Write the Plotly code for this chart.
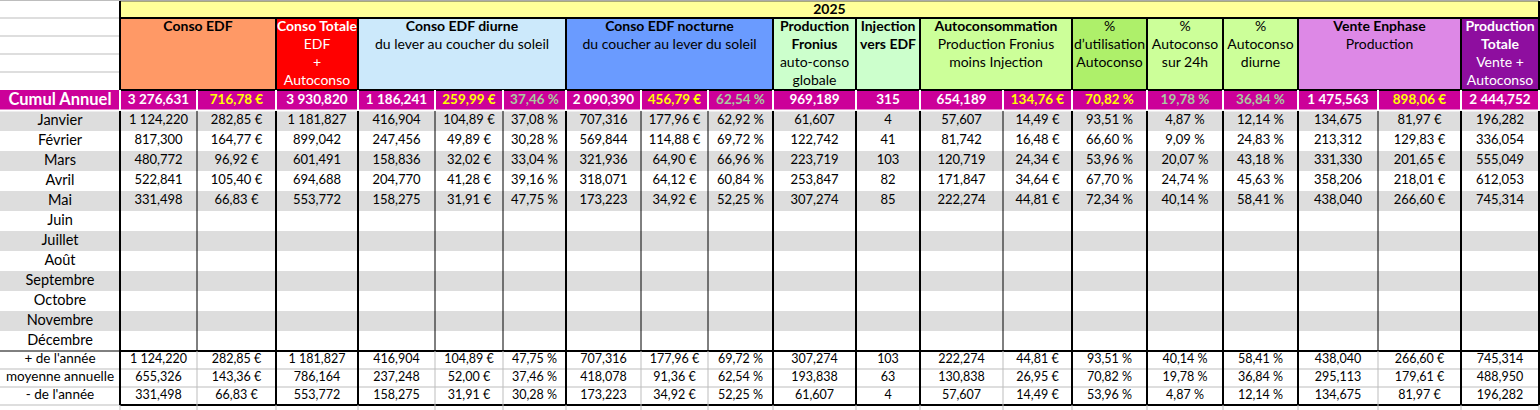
import plotly.graph_objects as go

year = "2025"
months = ["Janvier", "Février", "Mars", "Avril", "Mai", "Juin", "Juillet",
          "Août", "Septembre", "Octobre", "Novembre", "Décembre"]

conso_edf_kwh = [1124.220, 817.300, 480.772, 522.841, 331.498]
conso_edf_eur = [282.85, 164.77, 96.92, 105.40, 66.83]
conso_totale = [1181.827, 899.042, 601.491, 694.688, 553.772]
diurne_kwh = [416.904, 247.456, 158.836, 204.770, 158.275]
diurne_eur = [104.89, 49.89, 32.02, 41.28, 31.91]
diurne_pct = [37.08, 30.28, 33.04, 39.16, 47.75]
nocturne_kwh = [707.316, 569.844, 321.936, 318.071, 173.223]
nocturne_eur = [177.96, 114.88, 64.90, 64.12, 34.92]
nocturne_pct = [62.92, 69.72, 66.96, 60.84, 52.25]
prod_fronius = [61.607, 122.742, 223.719, 253.847, 307.274]
injection = [4, 41, 103, 82, 85]
autoconso_kwh = [57.607, 81.742, 120.719, 171.847, 222.274]
autoconso_eur = [14.49, 16.48, 24.34, 34.64, 44.81]
pct_utilisation = [93.51, 66.60, 53.96, 67.70, 72.34]
pct_autoconso_24h = [4.87, 9.09, 20.07, 24.74, 40.14]
pct_autoconso_diurne = [12.14, 24.83, 43.18, 45.63, 58.41]
enphase_kwh = [134.675, 213.312, 331.330, 358.206, 438.040]
enphase_eur = [81.97, 129.83, 201.65, 218.01, 266.60]
prod_totale = [196.282, 336.054, 555.049, 612.053, 745.314]

cumul_annuel = [3276.631, 716.78, 3930.820, 1186.241, 259.99, 37.46, 2090.390, 456.79, 62.54,
                969.189, 315, 654.189, 134.76, 70.82, 19.78, 36.84, 1475.563, 898.06, 2444.752]
plus_annee = [1124.220, 282.85, 1181.827, 416.904, 104.89, 47.75, 707.316, 177.96, 69.72,
              307.274, 103, 222.274, 44.81, 93.51, 40.14, 58.41, 438.040, 266.60, 745.314]
moyenne_annuelle = [655.326, 143.36, 786.164, 237.248, 52.00, 37.46, 418.078, 91.36, 62.54,
                    193.838, 63, 130.838, 26.95, 70.82, 19.78, 36.84, 295.113, 179.61, 488.950]
moins_annee = [331.498, 66.83, 553.772, 158.275, 31.91, 30.28, 173.223, 34.92, 52.25,
               61.607, 4, 57.607, 14.49, 53.96, 4.87, 12.14, 134.675, 81.97, 196.282]
summary_labels = ["+ de l'année", "moyenne annuelle", "- de l'année"]

monthly = [conso_edf_kwh, conso_edf_eur, conso_totale, diurne_kwh, diurne_eur, diurne_pct,
           nocturne_kwh, nocturne_eur, nocturne_pct, prod_fronius, injection, autoconso_kwh,
           autoconso_eur, pct_utilisation, pct_autoconso_24h, pct_autoconso_diurne,
           enphase_kwh, enphase_eur, prod_totale]
formats = ["n3", "eur", "n3", "n3", "eur", "pct", "n3", "eur", "pct", "n3", "int", "n3",
           "eur", "pct", "pct", "pct", "n3", "eur", "n3"]

# header groups: (first col, last col, fill, text colour, lines)
header_groups = [
    (0, 1, "#FF9966", "black", ["<b>Conso EDF</b>"]),
    (2, 2, "#FF0000", "white", ["<b>Conso Totale</b>", "EDF", "+", "Autoconso"]),
    (3, 5, "#CCE9FB", "black", ["<b>Conso EDF diurne</b>", "du lever au coucher du soleil"]),
    (6, 8, "#6A9BFF", "black", ["<b>Conso EDF nocturne</b>", "du coucher au lever du soleil"]),
    (9, 9, "#CCFFCC", "black", ["<b>Production</b>", "<b>Fronius</b>", "auto-conso", "globale"]),
    (10, 10, "#CCFFCC", "black", ["<b>Injection</b>", "<b>vers EDF</b>"]),
    (11, 12, "#CCFF99", "black", ["<b>Autoconsommation</b>", "Production Fronius", "moins Injection"]),
    (13, 13, "#AEF06A", "black", ["%", "d’utilisation", "Autoconso"]),
    (14, 14, "#CCFF99", "black", ["%", "Autoconso", "sur 24h"]),
    (15, 15, "#CCFF99", "black", ["%", "Autoconso", "diurne"]),
    (16, 17, "#DD88E6", "black", ["<b>Vente Enphase</b>", "Production"]),
    (18, 18, "#8E0E9F", "white", ["<b>Production</b>", "<b>Totale</b>", "Vente +", "Autoconso"]),
]

# ---- layout geometry (pixels) ----
W, H = 1540, 410
col_edges = [0, 120, 197, 276, 358, 435, 503, 566, 641, 708, 773, 856, 920, 1003,
             1072, 1147, 1223, 1298, 1378, 1461, 1539]
thick_edges = {1, 3, 4, 7, 10, 11, 12, 14, 15, 16, 17, 19, 20}
y_year = (1, 18)
y_head = (18, 90)
y_cumul = (90, 110)
y_month0, month_h = 111, 20
y_sum0, sum_h = 351, 18
y_end = y_sum0 + 3 * sum_h

MAGENTA = "#CC0099"
BAND = "#DDDDDD"
YELLOW = "#FFFF00"
SAGE = "#A9CB9F"
FONT = "Lato"


def fr(v, fmt):
    if fmt == "int":
        return str(int(v))
    dec = 3 if fmt == "n3" else 2
    s = f"{v:,.{dec}f}".replace(",", " ").replace(".", ",")
    if fmt == "eur":
        s += " €"
    elif fmt == "pct":
        s += " %"
    return s


def cx(i):
    return (col_edges[i] + col_edges[i + 1]) / 2


shapes = []


def rect(x0, y0, x1, y1, fill):
    shapes.append(dict(type="rect", xref="x", yref="y", x0=x0, y0=y0, x1=x1, y1=y1,
                       fillcolor=fill, line=dict(width=0), layer="below"))


def line(x0, y0, x1, y1, color, lw):
    shapes.append(dict(type="line", xref="x", yref="y", x0=x0, y0=y0, x1=x1, y1=y1,
                       line=dict(width=lw, color=color), layer="above"))


# background bands
for r in range(len(months)):
    if r % 2 == 0:
        y0 = y_month0 + r * month_h
        rect(0, y0, col_edges[-1], y0 + month_h, BAND)
rect(0, y_cumul[0], col_edges[-1], y_cumul[1], MAGENTA)

# year band + header cells
rect(col_edges[1], y_year[0], col_edges[-1], y_year[1], "#FFFF99")
for c0, c1, fill, _, _ in header_groups:
    rect(col_edges[c0 + 1], y_head[0], col_edges[c1 + 2], y_head[1], fill)

# label column grid in header
for y in [0.5, 18, 36, 54, 72]:
    line(0, y, col_edges[1], y, "#BDBDBD", 1)
line(col_edges[1], y_year[0], col_edges[-1], y_year[0], "#555555", 1)
line(col_edges[1], y_head[0], col_edges[-1], y_head[0], "black", 2)
line(col_edges[1], y_head[1], col_edges[-1], y_head[1], "black", 2)
for c0, c1, *_ in header_groups:
    line(col_edges[c1 + 2], y_head[0], col_edges[c1 + 2], y_head[1], "black", 2)
line(col_edges[1], y_year[0], col_edges[1], y_head[1], "black", 2)
line(col_edges[-1], y_year[0], col_edges[-1], y_head[1], "black", 2)

# cumul row white separators
for x in col_edges[1:]:
    line(x, y_cumul[0], x, y_cumul[1], "white", 2)
line(0, y_cumul[1] + 0.5, col_edges[-1], y_cumul[1] + 0.5, "white", 2)

# month block verticals
for i, x in enumerate(col_edges[1:], start=1):
    thick = i in thick_edges
    line(x, y_month0, x, y_sum0, "black", 2 if thick else 1)

# summary block
line(0, y_sum0, col_edges[1], y_sum0, "black", 1)
line(col_edges[1], y_sum0, col_edges[-1], y_sum0, "black", 2)
for k in (1, 2):
    y = y_sum0 + k * sum_h
    line(0, y, col_edges[-1], y, "#BDBDBD", 1)
line(0, y_end, col_edges[1], y_end, "#BDBDBD", 1)
line(col_edges[1], y_end, col_edges[-1], y_end, "black", 2)
for i, x in enumerate(col_edges[1:], start=1):
    thick = i in thick_edges
    line(x, y_sum0, x, y_end, "black" if thick else "#BDBDBD", 2 if thick else 1)
    line(x, y_end, x, H, "#BDBDBD", 1)

fig = go.Figure()


def add_text(xs, ys, texts, size, color, bold=False):
    if bold:
        texts = [f"<b>{t}</b>" for t in texts]
    fig.add_trace(go.Scatter(x=xs, y=ys, text=texts, mode="text", textposition="middle center",
                             textfont=dict(family=FONT, size=size, color=color),
                             hoverinfo="skip", showlegend=False))


# year
add_text([(col_edges[1] + col_edges[-1]) / 2], [sum(y_year) / 2 + 0.5], [year], 14, "black", True)

# header texts
head_line_y = [27, 45, 63, 81]
for c0, c1, _, tcolor, lines in header_groups:
    xm = (col_edges[c0 + 1] + col_edges[c1 + 2]) / 2
    add_text([xm] * len(lines), head_line_y[:len(lines)], lines, 14, tcolor)

# cumul row
yc = sum(y_cumul) / 2 + 0.5
add_text([cx(0)], [yc], ["Cumul Annuel"], 16.5, "white", True)
cum_colors = []
for j, f in enumerate(formats):
    if f == "eur" or j == 13:
        cum_colors.append(YELLOW)
    elif f == "pct":
        cum_colors.append(SAGE)
    else:
        cum_colors.append("white")
for colr in [YELLOW, SAGE, "white"]:
    idx = [j for j in range(len(formats)) if cum_colors[j] == colr]
    add_text([cx(j + 1) for j in idx], [yc] * len(idx),
             [fr(cumul_annuel[j], formats[j]) for j in idx], 13.5, colr, True)

# month rows
ym = [y_month0 + r * month_h + month_h / 2 for r in range(len(months))]
add_text([cx(0)] * len(months), ym, months, 14.5, "black")
xs, ys, ts = [], [], []
for j, series in enumerate(monthly):
    for r, v in enumerate(series):
        xs.append(cx(j + 1))
        ys.append(ym[r])
        ts.append(fr(v, formats[j]))
add_text(xs, ys, ts, 13, "black")

# summary rows
ysum = [y_sum0 + k * sum_h + sum_h / 2 for k in range(3)]
add_text([cx(0)] * 3, ysum, summary_labels, 13.5, "black")
xs, ys, ts = [], [], []
for k, row in enumerate([plus_annee, moyenne_annuelle, moins_annee]):
    for j, v in enumerate(row):
        xs.append(cx(j + 1))
        ys.append(ysum[k])
        ts.append(fr(v, formats[j]))
add_text(xs, ys, ts, 12.5, "black")

fig.update_layout(
    width=W, height=H,
    margin=dict(l=0, r=0, t=0, b=0),
    paper_bgcolor="white", plot_bgcolor="white",
    shapes=shapes,
    xaxis=dict(range=[0, W], visible=False, fixedrange=True),
    yaxis=dict(range=[H, 0], visible=False, fixedrange=True),
)

# page body has a default 8px margin; drop it so the sheet sits at the window origin
fig.write_html("out.html", config={"displayModeBar": False},
               post_script="document.body.style.margin='0px';")
